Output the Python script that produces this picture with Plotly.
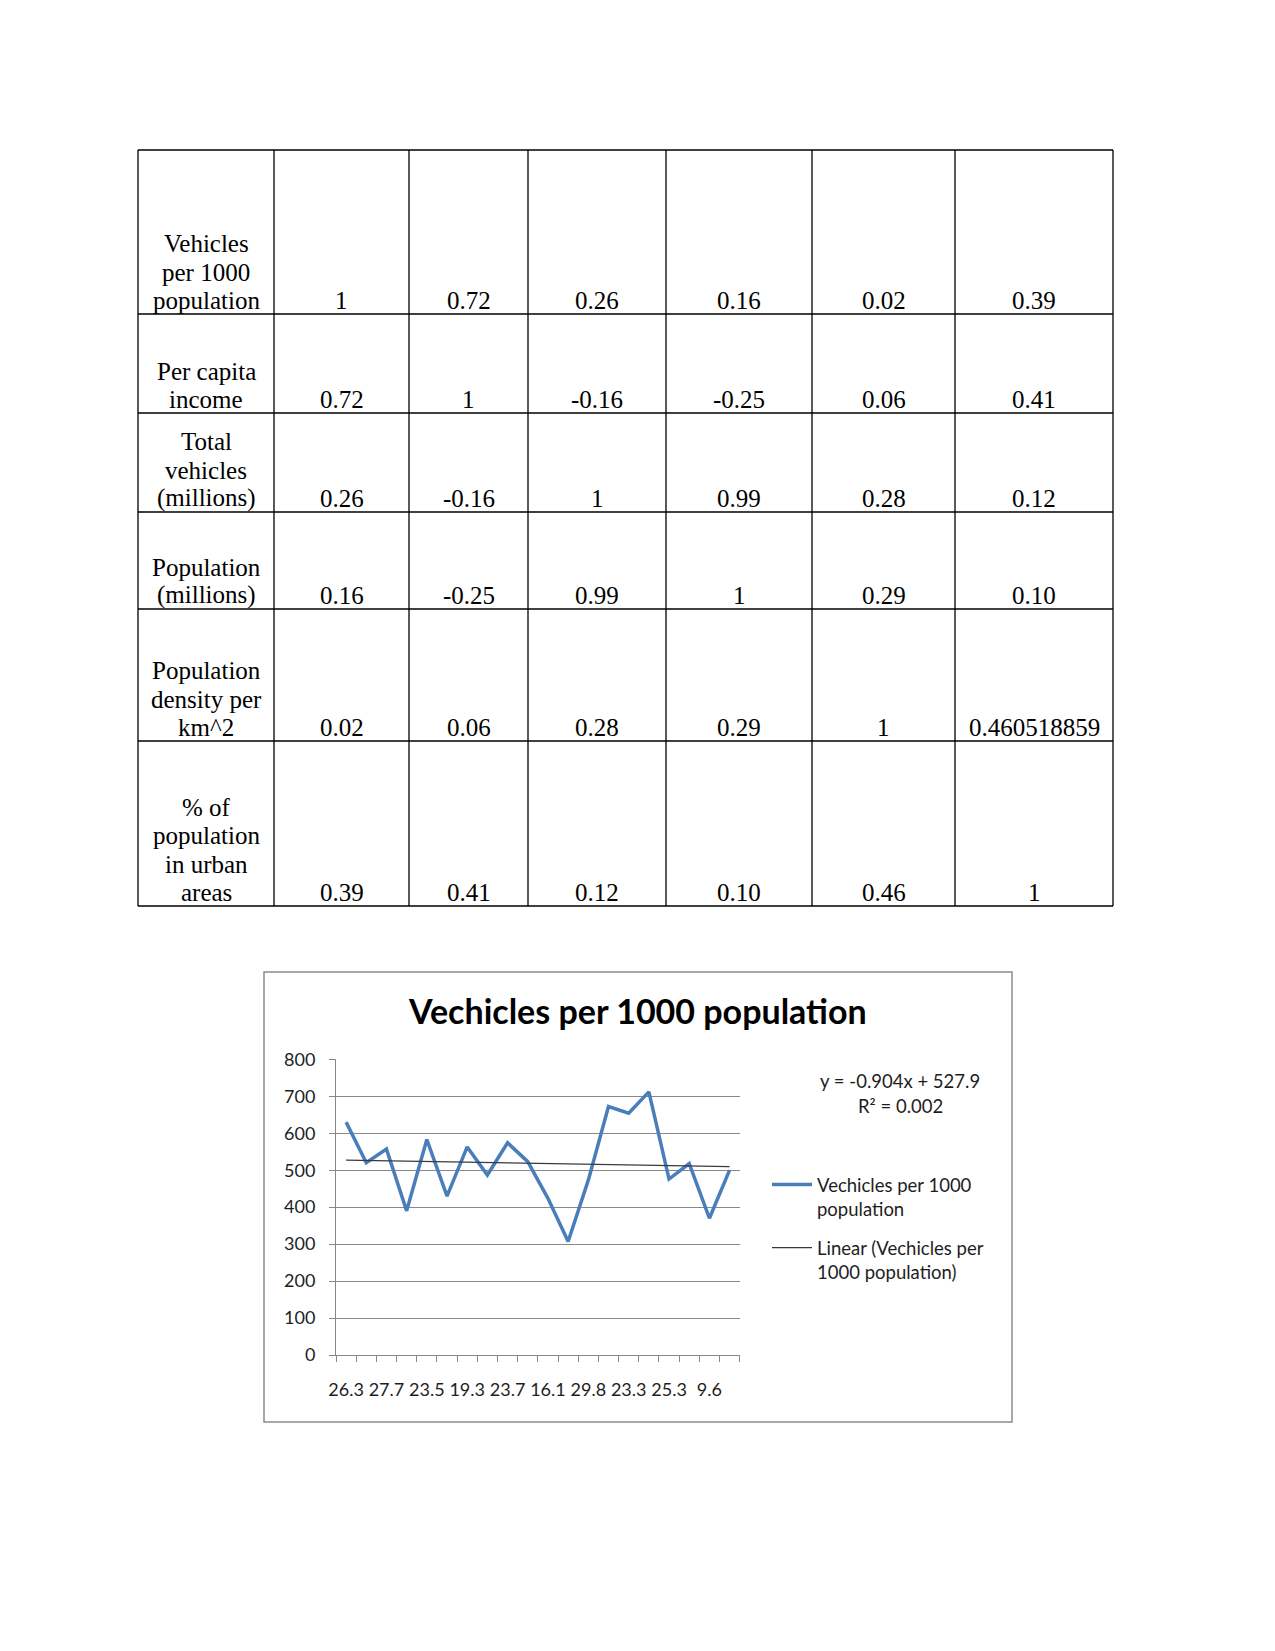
import plotly.graph_objects as go

# ---------------- data ----------------
row_labels = [
    "Vehicles<br>per 1000<br>population",
    "Per capita<br>income",
    "Total<br>vehicles<br>(millions)",
    "Population<br>(millions)",
    "Population<br>density per<br>km^2",
    "% of<br>population<br>in urban<br>areas",
]
corr_values = [
    ["1", "0.72", "0.26", "0.16", "0.02", "0.39"],
    ["0.72", "1", "-0.16", "-0.25", "0.06", "0.41"],
    ["0.26", "-0.16", "1", "0.99", "0.28", "0.12"],
    ["0.16", "-0.25", "0.99", "1", "0.29", "0.10"],
    ["0.02", "0.06", "0.28", "0.29", "1", "0.460518859"],
    ["0.39", "0.41", "0.12", "0.10", "0.46", "1"],
]

category_index = list(range(1, 21))
vehicles_per_1000 = [630, 520, 557, 390, 583, 430, 563, 487, 574, 523,
                     424, 307, 473, 672, 654, 712, 476, 518, 370, 500]
tick_positions = [1, 3, 5, 7, 9, 11, 13, 15, 17, 19]
tick_labels = ["26.3", "27.7", "23.5", "19.3", "23.7", "16.1", "29.8", "23.3", "25.3", "9.6"]

trend_slope = -0.904
trend_intercept = 527.9
equation_lines = ["y = -0.904x + 527.9", "R² = 0.002"]

chart_title = "Vechicles per 1000 population"
series_name = "Vechicles per 1000<br>population"
trend_name = "Linear (Vechicles per<br>1000 population)"

# ---------------- layout constants (pixels) ----------------
W, H = 1275, 1651
def px(x):
    return x / W
def py(y):
    return 1 - y / H

col_edges = [138, 274, 409, 528, 666, 812, 955, 1113]
row_edges = [150, 314, 413, 512, 609, 741, 906]
TABLE_FONT = dict(family="Liberation Serif", size=25, color="black")
LINE_STEP = 28.3
TEXT_DROP = 2

CHART_FONT = "Lato"
GRAY = "#888888"
TEXT_COLOR = "#1e1e1e"

fig = go.Figure()

fig.add_trace(go.Scatter(
    x=category_index, y=vehicles_per_1000, mode="lines",
    line=dict(color="#4A7EBB", width=3.5), name=series_name, legendgroup="g1",
))
trend_y = [trend_slope * x + trend_intercept for x in category_index]
fig.add_trace(go.Scatter(
    x=category_index, y=trend_y, mode="lines",
    line=dict(color="#3a3a3a", width=1.2), name=trend_name, legendgroup="g2",
))

shapes = []
annotations = []

# table grid
for yv in row_edges:
    shapes.append(dict(type="line", xref="paper", yref="paper",
                       x0=px(col_edges[0]), x1=px(col_edges[-1]), y0=py(yv), y1=py(yv),
                       line=dict(color="black", width=1.3)))
for xv in col_edges:
    shapes.append(dict(type="line", xref="paper", yref="paper",
                       x0=px(xv), x1=px(xv), y0=py(row_edges[0]), y1=py(row_edges[-1]),
                       line=dict(color="black", width=1.3)))

def cell_text(text, ci, ri):
    xc = (col_edges[ci] + col_edges[ci + 1]) / 2
    bottom = row_edges[ri + 1] + TEXT_DROP
    lines = text.split("<br>")
    n = len(lines)
    for k, ln in enumerate(lines):
        yb = bottom - (n - 1 - k) * LINE_STEP
        annotations.append(dict(xref="paper", yref="paper", x=px(xc), y=py(yb),
                                xanchor="center", yanchor="bottom", text=ln,
                                showarrow=False, font=TABLE_FONT))

for ri, lab in enumerate(row_labels):
    cell_text(lab, 0, ri)
    for cj, val in enumerate(corr_values[ri]):
        cell_text(val, cj + 1, ri)

# chart frame
shapes.append(dict(type="rect", xref="paper", yref="paper",
                   x0=px(264), x1=px(1012), y0=py(1422), y1=py(972),
                   line=dict(color="#8c8c8c", width=1.5)))

# equation text
for k, t in enumerate(equation_lines):
    annotations.append(dict(xref="paper", yref="paper", x=px(900), y=py(1081 + 25 * k),
                            xanchor="center", yanchor="middle", text=t, showarrow=False,
                            font=dict(family=CHART_FONT, size=18.5, color=TEXT_COLOR)))

annotations.append(dict(xref="paper", yref="paper", x=px(637), y=py(1010),
                        xanchor="center", yanchor="middle", text="<b>" + chart_title + "</b>",
                        showarrow=False, font=dict(family=CHART_FONT, size=34, color="black")))

fig.update_layout(
    width=W, height=H,
    margin=dict(l=0, r=0, t=0, b=0, autoexpand=False),
    paper_bgcolor="white", plot_bgcolor="white",
    shapes=shapes, annotations=annotations,
    showlegend=True,
    legend=dict(x=px(767), y=py(1166), xanchor="left", yanchor="top",
                valign="top", bgcolor="rgba(0,0,0,0)",
                font=dict(family=CHART_FONT, size=18.5, color=TEXT_COLOR),
                tracegroupgap=12, itemwidth=40),
    xaxis=dict(domain=[px(336), px(739.7)], range=[0.5, 20.5], automargin=False,
               tickmode="array", tickvals=tick_positions, ticktext=tick_labels,
               ticks="", showgrid=False, zeroline=False,
               showline=True, linecolor=GRAY, linewidth=1,
               tickfont=dict(family=CHART_FONT, size=18, color=TEXT_COLOR),
               ticklabelstandoff=18,
               minor=dict(tickvals=[i + 0.5 for i in range(0, 21)], ticks="outside",
                          ticklen=6, tickcolor=GRAY, tickwidth=1, showgrid=False)),
    yaxis=dict(domain=[py(1355), py(1059.3)], range=[0, 800], dtick=100, automargin=False,
               ticks="outside", ticklen=6, tickcolor=GRAY,
               showgrid=True, gridcolor=GRAY, gridwidth=1, zeroline=False,
               showline=True, linecolor=GRAY, linewidth=1,
               tickfont=dict(family=CHART_FONT, size=18, color=TEXT_COLOR),
               ticklabelstandoff=10),
)

fig.write_html("out.html", config={"displayModeBar": False},
               post_script="document.body.style.margin='0';")
